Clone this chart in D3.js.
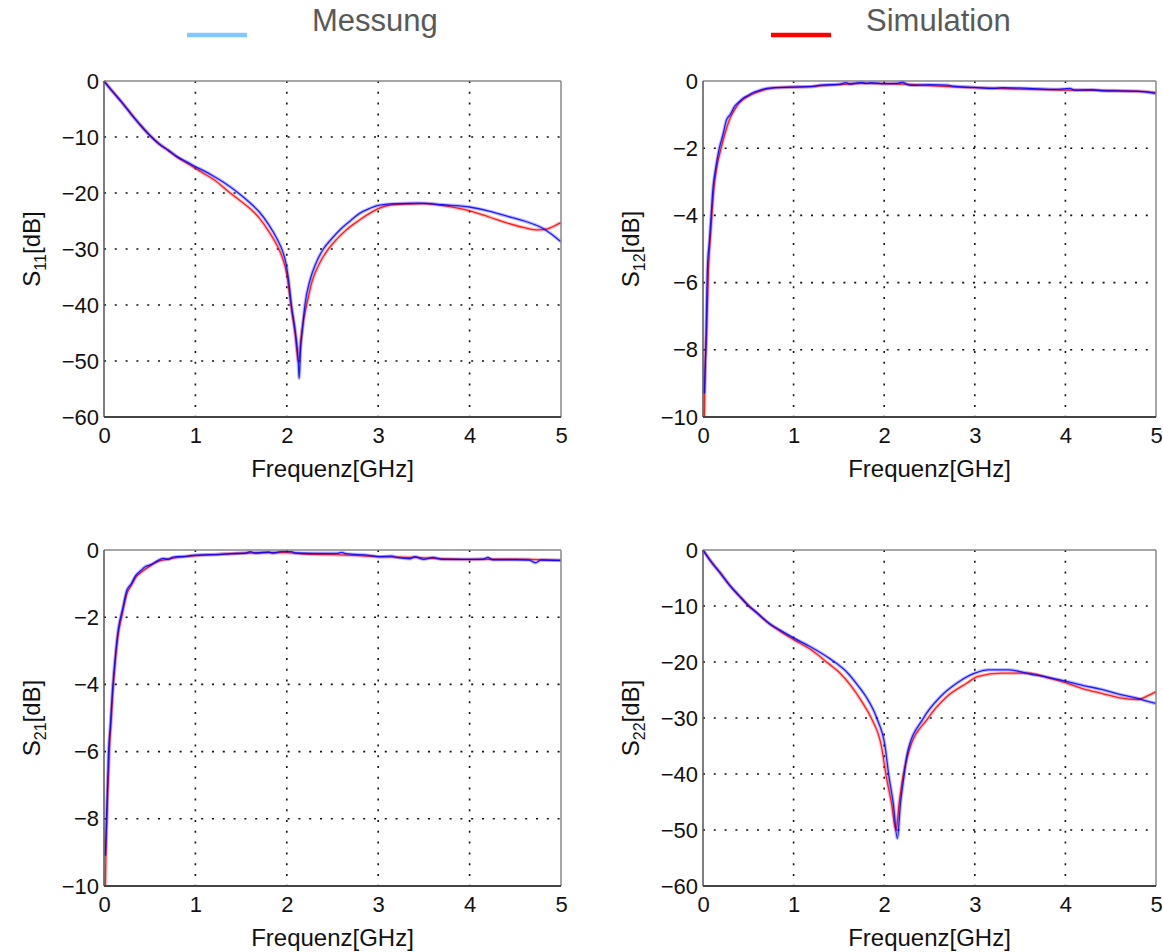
<!DOCTYPE html>
<html lang="de">
    <head>
        <meta charset="utf-8">
        <title>S-Parameter: Messung vs. Simulation</title>
        <script src="https://cdn.jsdelivr.net/npm/d3@7"></script>
        <style>
            body { margin: 0; background: #fff; }
            svg text { font-family: "Liberation Sans", Arial, sans-serif; }
        </style>
    </head>
    <body>
        <script>
        // ---- data (frequency in GHz, value in dB) ----
        var xTicks = [0, 1, 2, 3, 4, 5];
        var reflTicks = [0, -10, -20, -30, -40, -50, -60];
        var transTicks = [0, -2, -4, -6, -8, -10];

        // S11
        var s11MessF = [0, 0.1, 0.2, 0.3, 0.4, 0.5, 0.6, 0.7, 0.8, 0.9, 1.0, 1.1, 1.2, 1.3, 1.47, 1.6, 1.7, 1.8, 1.9, 1.95, 1.99, 2.02, 2.05, 2.095, 2.125, 2.135, 2.15, 2.17, 2.198, 2.253, 2.32, 2.4, 2.5, 2.58, 2.7, 2.8, 2.9, 3.0, 3.2, 3.45, 3.7, 4.0, 4.2, 4.4, 4.6, 4.8, 4.9, 5.0];
        var s11MessDb = [0, -2.0, -3.9, -6.0, -7.9, -9.7, -11.2, -12.3, -13.5, -14.4, -15.3, -16.1, -17.0, -18.0, -20.0, -21.8, -23.4, -25.6, -28.4, -30.2, -32.5, -35.6, -40, -45, -50, -53.1, -48, -44.5, -40, -35.6, -32.5, -30, -28, -26.6, -24.9, -23.6, -22.8, -22.2, -21.9, -21.8, -22.1, -22.5, -23.2, -24.1, -25.0, -26.3, -27.4, -28.7];
        var s11SimF = [0, 0.1, 0.2, 0.3, 0.4, 0.5, 0.6, 0.7, 0.8, 0.9, 1.0, 1.1, 1.2, 1.38, 1.5, 1.6, 1.7, 1.8, 1.9, 1.95, 2.0, 2.045, 2.09, 2.13, 2.155, 2.18, 2.217, 2.28, 2.36, 2.455, 2.55, 2.65, 2.78, 2.91, 3.0, 3.15, 3.3, 3.5, 3.7, 3.9, 4.0, 4.2, 4.4, 4.6, 4.75, 4.85, 4.95, 5.0];
        var s11SimDb = [0, -2.0, -3.9, -5.9, -7.9, -9.7, -11.2, -12.4, -13.6, -14.6, -15.6, -16.6, -17.6, -20.0, -21.5, -22.8, -24.5, -26.8, -29.6, -31.5, -34.5, -40, -45, -50.2, -46, -43, -40, -35.6, -32.5, -30, -28.2, -26.6, -25, -23.6, -22.8, -22.1, -22.0, -21.9, -22.2, -22.8, -23.2, -24.2, -25.3, -26.2, -26.6, -26.4, -25.7, -25.3];

        // S12
        var s12MessF = [0.015, 0.03, 0.05, 0.07, 0.09, 0.11, 0.14, 0.18, 0.22, 0.26, 0.3, 0.35, 0.4, 0.45, 0.5, 0.55, 0.6, 0.7, 0.8, 1.0, 1.2, 1.3, 1.5, 1.58, 1.62, 1.75, 1.8, 1.85, 2.0, 2.15, 2.2, 2.25, 2.3, 2.5, 2.7, 2.75, 3.0, 3.2, 3.3, 3.6, 3.9, 4.05, 4.1, 4.3, 4.4, 4.6, 4.8, 5.0];
        var s12MessDb = [-9.3, -8.0, -5.5, -4.8, -4.0, -3.2, -2.6, -2.0, -1.6, -1.15, -1.0, -0.75, -0.62, -0.5, -0.43, -0.35, -0.3, -0.22, -0.2, -0.18, -0.17, -0.12, -0.1, -0.05, -0.09, -0.04, -0.07, -0.05, -0.08, -0.07, -0.03, -0.1, -0.13, -0.11, -0.12, -0.15, -0.19, -0.22, -0.2, -0.22, -0.25, -0.22, -0.27, -0.26, -0.29, -0.3, -0.31, -0.37];
        var s12SimF = [0.015, 0.02, 0.04, 0.06, 0.08, 0.1, 0.12, 0.15, 0.2, 0.25, 0.3, 0.35, 0.4, 0.5, 0.6, 0.7, 0.8, 1.0, 1.2, 1.4, 1.6, 1.8, 2.0, 2.2, 2.4, 2.6, 2.8, 3.0, 3.5, 4.0, 4.5, 4.8, 5.0];
        var s12SimDb = [-10, -9.0, -7.5, -5.6, -4.7, -3.9, -3.2, -2.6, -2.0, -1.5, -1.1, -0.85, -0.65, -0.45, -0.33, -0.25, -0.2, -0.18, -0.16, -0.12, -0.09, -0.07, -0.08, -0.09, -0.12, -0.15, -0.18, -0.2, -0.24, -0.27, -0.28, -0.3, -0.35];

        // S21
        var s21MessF = [0.015, 0.03, 0.05, 0.07, 0.09, 0.11, 0.13, 0.16, 0.2, 0.25, 0.3, 0.35, 0.4, 0.45, 0.5, 0.55, 0.6, 0.65, 0.7, 0.75, 0.8, 0.9, 1.0, 1.2, 1.4, 1.55, 1.6, 1.65, 1.8, 1.85, 1.95, 2.05, 2.1, 2.3, 2.55, 2.6, 2.65, 2.9, 3.0, 3.15, 3.2, 3.35, 3.4, 3.5, 3.6, 3.7, 4.0, 4.15, 4.2, 4.25, 4.5, 4.65, 4.72, 4.78, 5.0];
        var s21MessDb = [-9.1, -7.8, -6.0, -5.2, -4.3, -3.6, -3.0, -2.3, -1.8, -1.2, -1.0, -0.75, -0.62, -0.5, -0.45, -0.38, -0.3, -0.25, -0.28, -0.22, -0.2, -0.19, -0.15, -0.14, -0.11, -0.09, -0.05, -0.09, -0.06, -0.09, -0.04, -0.05, -0.09, -0.1, -0.1, -0.07, -0.11, -0.16, -0.2, -0.18, -0.22, -0.26, -0.2, -0.28, -0.22, -0.28, -0.28, -0.27, -0.22, -0.29, -0.29, -0.3, -0.38, -0.3, -0.31];
        var s21SimF = [0.015, 0.02, 0.04, 0.06, 0.08, 0.1, 0.12, 0.15, 0.2, 0.25, 0.3, 0.35, 0.4, 0.5, 0.6, 0.7, 0.8, 1.0, 1.3, 1.6, 1.8, 2.0, 2.2, 2.5, 2.8, 3.0, 3.4, 3.7, 4.0, 4.5, 4.8, 5.0];
        var s21SimDb = [-10, -9.2, -7.3, -5.9, -5.0, -4.1, -3.4, -2.6, -1.9, -1.3, -1.05, -0.8, -0.68, -0.48, -0.33, -0.27, -0.22, -0.17, -0.12, -0.09, -0.08, -0.08, -0.12, -0.14, -0.17, -0.2, -0.22, -0.26, -0.28, -0.27, -0.29, -0.31];

        // S22
        var s22MessF = [0, 0.1, 0.2, 0.3, 0.4, 0.5, 0.6, 0.74, 0.85, 1.0, 1.2, 1.4, 1.6, 1.71, 1.8, 1.92, 2.01, 2.05, 2.1, 2.145, 2.18, 2.22, 2.255, 2.43, 2.62, 2.8, 3.0, 3.15, 3.37, 3.5, 3.6, 3.8, 4.0, 4.2, 4.4, 4.6, 4.8, 4.9, 5.0];
        var s22MessDb = [0, -2.3, -4.3, -6.4, -8.2, -9.9, -11.3, -13.2, -14.3, -15.7, -17.4, -19.4, -22.0, -24.2, -26.2, -30.1, -35.1, -40.2, -45.2, -51.5, -45.2, -40.2, -36.3, -30.1, -26.2, -23.8, -22.0, -21.4, -21.4, -21.7, -22.1, -22.7, -23.4, -24.2, -24.9, -25.8, -26.5, -27.0, -27.4];
        var s22SimF = [0, 0.1, 0.2, 0.3, 0.4, 0.5, 0.6, 0.74, 0.85, 1.0, 1.2, 1.38, 1.5, 1.64, 1.75, 1.86, 1.97, 2.02, 2.08, 2.13, 2.165, 2.21, 2.266, 2.48, 2.69, 2.91, 3.03, 3.3, 3.6, 3.8, 4.0, 4.2, 4.4, 4.6, 4.8, 4.9, 5.0];
        var s22SimDb = [0, -2.3, -4.3, -6.4, -8.2, -9.9, -11.3, -13.3, -14.5, -16.0, -17.9, -20.2, -21.8, -24.4, -27.0, -30.1, -35.1, -40.2, -45.2, -50.0, -45.2, -40.2, -36.3, -30.1, -26.2, -23.8, -22.6, -22.0, -22.0, -22.8, -23.7, -24.8, -25.6, -26.4, -26.7, -26.1, -25.3];

        var seriesNames = ["Messung", "Simulation"];
        var messColor = "#0000ff";
        var simColor = "#ff0000";
        var legendColors = ["#82c8ff", "#ff0000"];

        // ---- layout ----
        var w = 1163;
        var h = 952;
        var boxH = 336;

        var panels = [
            { left: 104, top: 81, width: 457, sub: "11", yDomain: [-60, 0], ticks: reflTicks, mess: [s11MessF, s11MessDb], sim: [s11SimF, s11SimDb] },
            { left: 703, top: 81, width: 453, sub: "12", yDomain: [-10, 0], ticks: transTicks, mess: [s12MessF, s12MessDb], sim: [s12SimF, s12SimDb] },
            { left: 104, top: 550, width: 457, sub: "21", yDomain: [-10, 0], ticks: transTicks, mess: [s21MessF, s21MessDb], sim: [s21SimF, s21SimDb] },
            { left: 703, top: 550, width: 453, sub: "22", yDomain: [-60, 0], ticks: reflTicks, mess: [s22MessF, s22MessDb], sim: [s22SimF, s22SimDb] }
        ];

        var svg = d3.select("body")
                    .append("svg")
                      .attr("width", w)
                      .attr("height", h);

        // legend
        var legendX = [187, 771];
        var legendTextX = [312, 866];
        seriesNames.forEach(function(name, i) {
            svg.append("line")
               .attr("x1", legendX[i])
               .attr("x2", legendX[i] + 60)
               .attr("y1", 35)
               .attr("y2", 35)
               .attr("stroke", legendColors[i])
               .attr("stroke-width", 4.5);
            svg.append("text")
               .attr("x", legendTextX[i])
               .attr("y", 31)
               .style("font-size", "31px")
               .style("fill", "#595959")
               .text(name);
        });

        function zip(arr) {
            return arr[0].map(function(f, i) { return [f, arr[1][i]]; });
        }

        var fmt = function(d) { return d < 0 ? "\u2212" + Math.abs(d) : d; };

        panels.forEach(function(p) {
            var boxW = p.width;
            var g = svg.append("g")
                       .attr("transform", "translate(" + p.left + "," + p.top + ")");

            var xScale = d3.scaleLinear().domain([0, 5]).range([0, boxW]);
            var yScale = d3.scaleLinear().domain(p.yDomain).range([boxH, 0]);

            // dotted grid
            g.append("g")
             .selectAll("line")
             .data(xTicks.slice(1, -1))
             .enter()
             .append("line")
               .attr("x1", function(d) { return xScale(d); })
               .attr("x2", function(d) { return xScale(d); })
               .attr("y1", 0)
               .attr("y2", boxH)
               .attr("stroke", "#111")
               .attr("stroke-width", 1.6)
               .attr("stroke-dasharray", "2,8.8");

            g.append("g")
             .selectAll("line")
             .data(p.ticks.slice(1, -1))
             .enter()
             .append("line")
               .attr("x1", 0)
               .attr("x2", boxW)
               .attr("y1", function(d) { return yScale(d); })
               .attr("y2", function(d) { return yScale(d); })
               .attr("stroke", "#111")
               .attr("stroke-width", 1.6)
               .attr("stroke-dasharray", "2,8.8");

            // axes
            var xAxis = d3.axisBottom(xScale).tickValues(xTicks).tickSize(0).tickPadding(10).tickFormat(fmt);
            var yAxis = d3.axisLeft(yScale).tickValues(p.ticks).tickSize(0).tickPadding(5).tickFormat(fmt);

            var gx = g.append("g")
                      .attr("transform", "translate(0," + boxH + ")")
                      .call(xAxis);
            var gy = g.append("g").call(yAxis);
            [gx, gy].forEach(function(a) {
                a.select(".domain").remove();
                a.selectAll("text")
                 .style("font-size", "22px")
                 .style("font-family", "'Liberation Sans', Arial, sans-serif")
                 .attr("fill", "#111");
            });

            var line = d3.line()
                         .curve(d3.curveMonotoneX)
                         .x(function(d) { return xScale(d[0]); })
                         .y(function(d) { return yScale(d[1]); });

            // simulation below, measurement on top, each with a soft halo
            [[p.sim, simColor], [p.mess, messColor]].forEach(function(s) {
                var pts = zip(s[0]);
                g.append("path")
                 .datum(pts)
                 .attr("d", line)
                 .attr("fill", "none")
                 .attr("stroke", s[1])
                 .attr("stroke-opacity", 0.25)
                 .attr("stroke-width", 3.5);
                g.append("path")
                 .datum(pts)
                 .attr("d", line)
                 .attr("fill", "none")
                 .attr("stroke", s[1])
                 .attr("stroke-opacity", 0.85)
                 .attr("stroke-width", 1.3);
            });

            // frame: top/right lighter, left/bottom darker
            g.append("line").attr("x1", 0).attr("x2", boxW).attr("y1", 0).attr("y2", 0)
             .attr("stroke", "#888").attr("stroke-width", 1.5);
            g.append("line").attr("x1", boxW).attr("x2", boxW).attr("y1", 0).attr("y2", boxH)
             .attr("stroke", "#888").attr("stroke-width", 1.5);
            g.append("line").attr("x1", 0).attr("x2", 0).attr("y1", 0).attr("y2", boxH)
             .attr("stroke", "#555").attr("stroke-width", 1.5);
            g.append("line").attr("x1", 0).attr("x2", boxW).attr("y1", boxH).attr("y2", boxH)
             .attr("stroke", "#444").attr("stroke-width", 2);

            // axis titles
            g.append("text")
             .attr("x", boxW / 2)
             .attr("y", boxH + 60)
             .attr("text-anchor", "middle")
             .style("font-size", "24px")
             .attr("fill", "#111")
             .text("Frequenz[GHz]");

            var yl = g.append("text")
                      .attr("transform", "translate(-64," + (boxH / 2) + ") rotate(-90)")
                      .attr("text-anchor", "middle")
                      .style("font-size", "24px")
                      .attr("fill", "#111");
            yl.append("tspan").text("S");
            yl.append("tspan").attr("dy", 6).style("font-size", "16px").text(p.sub);
            yl.append("tspan").attr("dy", -6).text("[dB]");
        });
        </script>
    </body>
</html>
